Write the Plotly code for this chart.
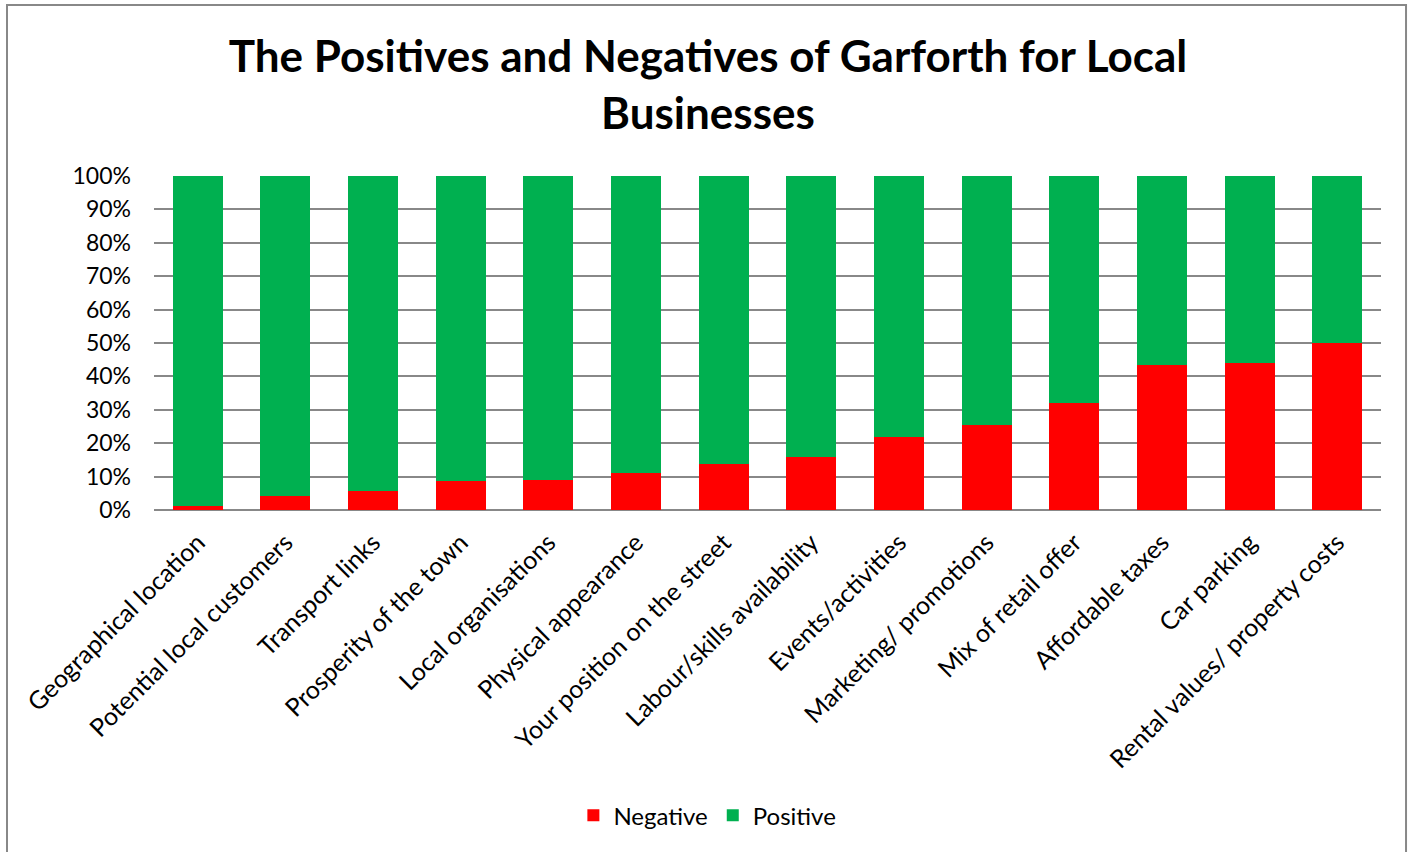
import plotly.graph_objects as go

categories = [
    "Geographical location",
    "Potential local customers",
    "Transport links",
    "Prosperity of the town",
    "Local organisations",
    "Physical appearance",
    "Your position on the street",
    "Labour/skills availability",
    "Events/activities",
    "Marketing/ promotions",
    "Mix of retail offer",
    "Affordable taxes",
    "Car parking",
    "Rental values/ property costs",
]
negative = [1.1, 4.3, 5.6, 8.7, 8.9, 11.0, 13.7, 15.8, 21.9, 25.6, 32.1, 43.5, 44.1, 50.0]
positive = [round(100 - v, 1) for v in negative]

FONT = "Lato"

fig = go.Figure()
fig.add_trace(go.Bar(name="Negative", x=categories, y=negative,
                     marker=dict(color="#FF0000", line=dict(width=0))))
fig.add_trace(go.Bar(name="Positive", x=categories, y=positive,
                     marker=dict(color="#00B050", line=dict(width=0))))

fig.update_layout(
    barmode="stack",
    bargap=0.43,
    width=1412,
    height=852,
    margin=dict(l=154, r=31, t=176, b=342),
    paper_bgcolor="white",
    plot_bgcolor="white",
    font=dict(family=FONT, color="black", size=23),
    title=dict(
        text="<b>The Positives and Negatives of Garforth for Local<br>Businesses</b>",
        x=0.5014, xref="container", xanchor="center",
        y=0.916, yref="container", yanchor="top",
        font=dict(family=FONT, size=44, color="black"),
    ),
    legend=dict(
        orientation="h", x=0.451, xanchor="center", y=-0.915, yanchor="middle",
        font=dict(size=24), itemwidth=30, traceorder="normal",
    ),
    showlegend=True,
)
fig.update_xaxes(
    tickangle=-45, tickfont=dict(size=25), showgrid=False,
    showline=False, ticks="", ticklabelstandoff=12,
)
fig.update_yaxes(
    range=[0, 100], dtick=10, ticksuffix="%", tickfont=dict(size=23),
    showgrid=True, gridcolor="#888888", gridwidth=2, zeroline=True,
    zerolinecolor="#888888", zerolinewidth=2, ticks="", ticklabelstandoff=22,
)

# outer chart frame
fig.add_shape(type="rect", xref="paper", yref="paper",
              x0=-0.1198, x1=1.0204, y0=-1.1, y1=1.512,
              line=dict(color="#888888", width=2), fillcolor="rgba(0,0,0,0)",
              layer="below")

fig.write_html("out.html")
